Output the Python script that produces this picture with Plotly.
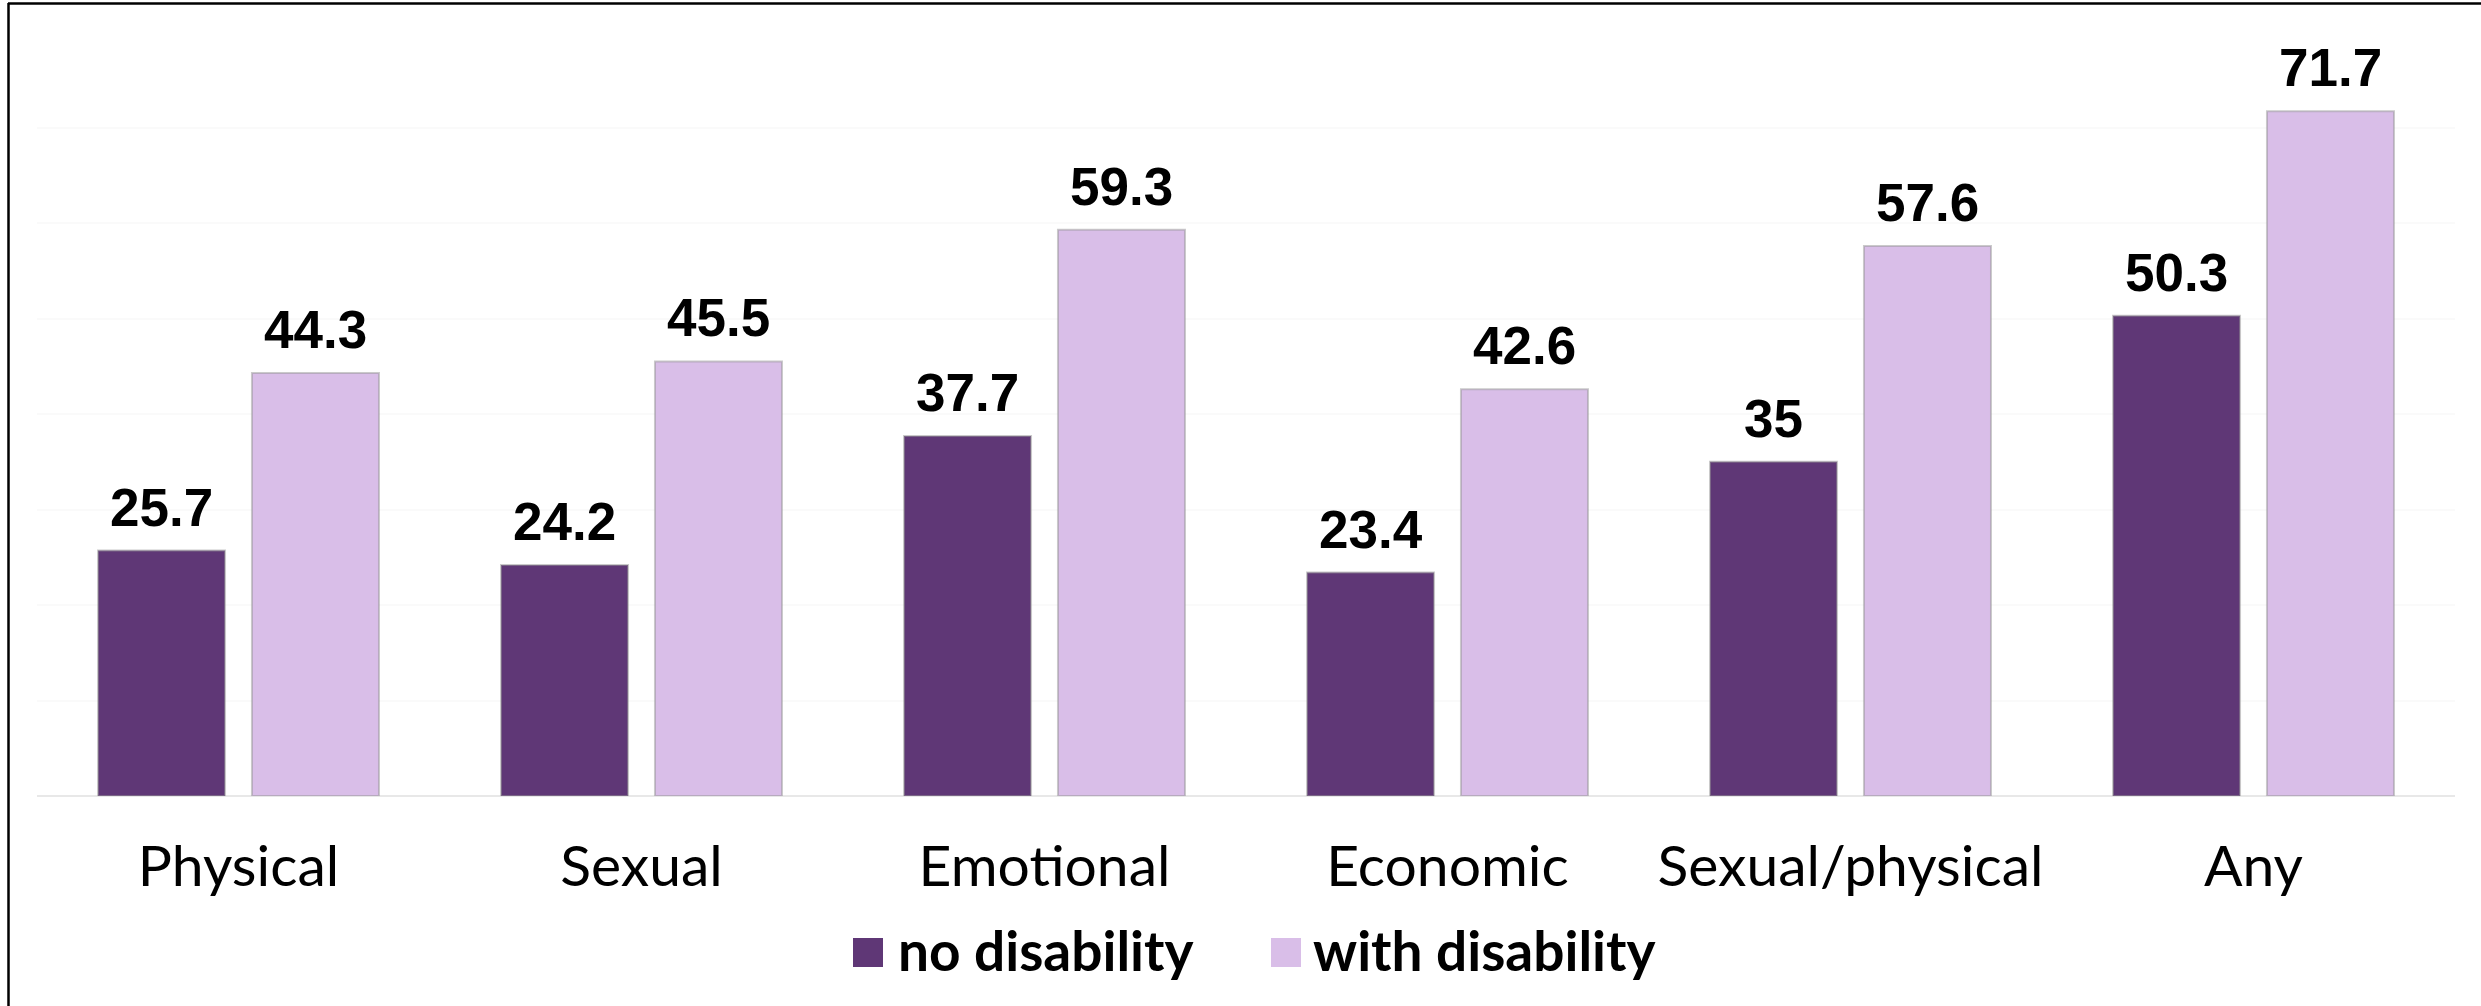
import plotly.graph_objects as go

# Share of women experiencing each form of violence, by disability status (%)
categories = ["Physical", "Sexual", "Emotional", "Economic", "Sexual/physical", "Any"]
no_disability = [25.7, 24.2, 37.7, 23.4, 35, 50.3]
with_disability = [44.3, 45.5, 59.3, 42.6, 57.6, 71.7]
series_names = ["no disability", "with disability"]

DARK = "#5F3776"
LIGHT = "#D9BEE8"

W, H = 2481, 1006
ML, MR, MT, MB = 37, 26, 32, 210
PW, PH = W - ML - MR, H - MT - MB


def px_x(x):
    return (x - ML) / PW


def px_y(y):
    return (H - MB - y) / PH


fig = go.Figure()
for vals, name, color in [(no_disability, series_names[0], DARK),
                          (with_disability, series_names[1], LIGHT)]:
    fig.add_trace(go.Bar(
        x=categories, y=vals, name=name,
        marker=dict(color=color, line=dict(color="rgba(150,150,150,0.5)", width=2)),
        showlegend=False,
    ))

# value labels above each bar
annotations = []
for vals, shift in [(no_disability, -77), (with_disability, 77)]:
    for cat, v in zip(categories, vals):
        annotations.append(dict(
            x=cat, y=v, xref="x", yref="y", text=f"{v:g}", showarrow=False,
            xanchor="center", yanchor="bottom", xshift=shift, yshift=12,
            font=dict(family="Liberation Sans", size=53, color="black", weight="bold"),
        ))

# legend drawn as swatches + text
shapes = []
legend_items = [(series_names[0], DARK, 853, 896), (series_names[1], LIGHT, 1271, 1311)]
for name, color, sx, tx in legend_items:
    shapes.append(dict(type="rect", xref="paper", yref="paper",
                       x0=px_x(sx), x1=px_x(sx + 30), y0=px_y(967), y1=px_y(938),
                       fillcolor=color, line=dict(width=0)))
    annotations.append(dict(
        x=px_x(tx), y=px_y(950), xref="paper", yref="paper", text=name,
        showarrow=False, xanchor="left", yanchor="middle",
        font=dict(family="Lato", size=55, color="black", weight="bold"),
    ))

# frame lines along the top and left edges
shapes.append(dict(type="line", xref="paper", yref="paper",
                   x0=px_x(8), x1=px_x(W), y0=px_y(3.5), y1=px_y(3.5),
                   line=dict(color="black", width=2.5)))
shapes.append(dict(type="line", xref="paper", yref="paper",
                   x0=px_x(8.5), x1=px_x(8.5), y0=px_y(3), y1=px_y(H),
                   line=dict(color="black", width=2.5)))

fig.update_layout(
    width=W, height=H,
    margin=dict(l=ML, r=MR, t=MT, b=MB),
    paper_bgcolor="white", plot_bgcolor="white",
    barmode="group", bargap=0.236, bargroupgap=0.175,
    annotations=annotations, shapes=shapes,
    xaxis=dict(showgrid=False, showline=False, ticks="",
               tickfont=dict(family="Lato", size=57, color="black"),
               ticklabelstandoff=32),
    yaxis=dict(range=[0, 80], dtick=10, showticklabels=False,
               showgrid=True, gridcolor="#fafafa", gridwidth=1.5,
               zeroline=True, zerolinecolor="#e8e8e8", zerolinewidth=2),
)

fig.write_html("out.html")
